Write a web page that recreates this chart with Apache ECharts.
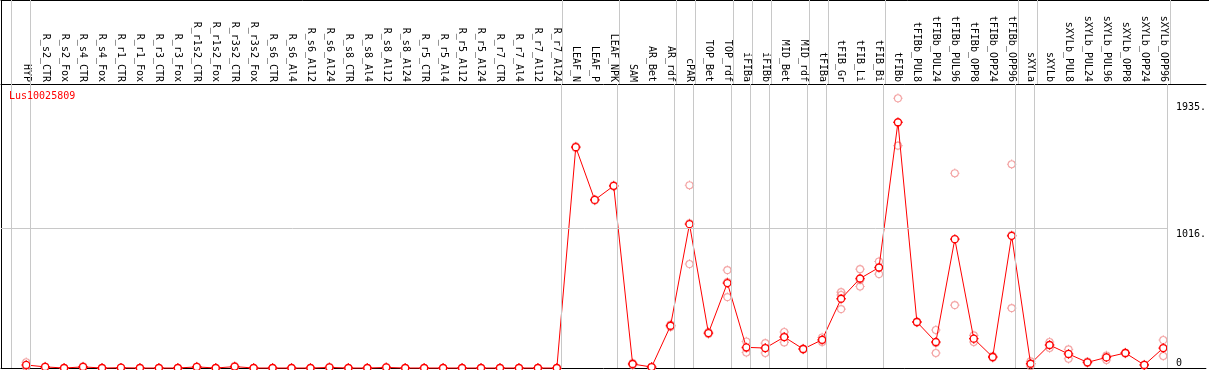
<!DOCTYPE html>
<html>
<head>
<meta charset="utf-8">
<script src="https://cdn.jsdelivr.net/npm/echarts@6/dist/echarts.min.js"></script>
<style>
  html, body { margin: 0; padding: 0; background: #fff; }
  #chart { width: 1209px; height: 370px; }
</style>
</head>
<body>
<div id="chart"></div>
<script>
// sample names along the top
const categories = [
  'HYP', 'R_s2_CTR', 'R_s2_Fox', 'R_s4_CTR', 'R_s4_Fox', 'R_r1_CTR', 'R_r1_Fox',
  'R_r3_CTR', 'R_r3_Fox', 'R_r1s2_CTR', 'R_r1s2_Fox', 'R_r3s2_CTR', 'R_r3s2_Fox',
  'R_s6_CTR', 'R_s6_Al4', 'R_s6_Al12', 'R_s6_Al24', 'R_s8_CTR', 'R_s8_Al4',
  'R_s8_Al12', 'R_s8_Al24', 'R_r5_CTR', 'R_r5_Al4', 'R_r5_Al12', 'R_r5_Al24',
  'R_r7_CTR', 'R_r7_Al4', 'R_r7_Al12', 'R_r7_Al24', 'LEAF_N', 'LEAF_P', 'LEAF_NPK',
  'SAM', 'AR_Bet', 'AR_rdf', 'cPAR', 'TOP_Bet', 'TOP_rdf', 'iFIBa', 'iFIBb',
  'MID_Bet', 'MID_rdf', 'tFIBa', 'tFIB_Gr', 'tFIB_Li', 'tFIB_Bi', 'tFIBb',
  'tFIBb_PUL8', 'tFIBb_PUL24', 'tFIBb_PUL96', 'tFIBb_OPP8', 'tFIBb_OPP24', 'tFIBb_OPP96',
  'sXYLa', 'sXYLb', 'sXYLb_PUL8', 'sXYLb_PUL24', 'sXYLb_PUL96', 'sXYLb_OPP8',
  'sXYLb_OPP24', 'sXYLb_OPP96'
]

// mean expression per sample
const meanValues = [
  22, 8, 0, 8, 0, 2, 0, 0, 0, 8, 0, 10, 0,
  0, 0, 0, 4, 0, 0, 4, 0, 0, 0, 0, 0, 0, 0, 0, 0,
  1604, 1221, 1323, 29, 7, 307, 1045, 254, 617, 150, 145,
  225, 138, 205, 503, 650, 730, 1785, 334, 189, 936, 213, 80, 960,
  31, 167, 102, 41, 77, 109, 22, 145
]

// replicates
const rep1 = [
  42, 11, 0, 12, 0, 3, 0, 0, 0, 11, 0, 14, 0,
  0, 0, 0, 6, 0, 0, 6, 0, 0, 0, 0, 0, 0, 0, 0, 0,
  1610, 1225, 1328, 36, 9, 316, 1328, 262, 711, 193, 181,
  261, 142, 222, 551, 718, 774, 1959, 338, 276, 1415, 237, 86, 1480,
  48, 189, 135, 46, 91, 113, 25, 203
]
const rep2 = [
  18, 8, 0, 8, 0, 2, 0, 0, 0, 8, 0, 10, 0,
  0, 0, 0, 4, 0, 0, 4, 0, 0, 0, 0, 0, 0, 0, 0, 0,
  1604, 1221, 1323, 30, 7, 308, 1052, 253, 625, 144, 145,
  228, 138, 204, 530, 640, 728, 1781, 334, 182, 936, 213, 80, 965,
  31, 167, 104, 41, 82, 109, 22, 145
]
const rep3 = [
  6, 5, 0, 4, 0, 1, 0, 0, 0, 5, 0, 6, 0,
  0, 0, 0, 2, 0, 0, 2, 0, 0, 0, 0, 0, 0, 0, 0, 0,
  1598, 1217, 1318, 21, 5, 297, 755, 247, 515, 113, 109,
  186, 134, 189, 428, 592, 682, 1615, 330, 109, 457, 189, 74, 435,
  14, 145, 67, 36, 58, 105, 19, 87
]

const yTicks = [0, 1016, 1935]
// last sample index of each group, a separator follows it
const groupEnds = [-1, 0, 28, 31, 34, 35, 37, 38, 39, 41, 42, 45, 52, 53, 60]
const geneId = 'Lus10025809'

// layout
const MONO = 'DejaVu Sans Mono'
const X_MIN = -1.33
const X_MAX = 62.25
const Y_MAX = 2063
const SEP_OFFSET = 0.21
const SEP_COLOR = '#c8c8c8'
// small circle with four ticks
const DOT_PATH =
  'path://M0,-4.7V-3.5M0,3.5V4.7M-4.7,0H-3.5M3.5,0H4.7M-3.5,0A3.5,3.5,0,1,1,3.5,0A3.5,3.5,0,1,1,-3.5,0Z'
const DOT_SIZE = 9.4

const chart = echarts.init(document.getElementById('chart'))

const hidden = { show: false }
const blackLine = { show: true, onZero: false, lineStyle: { color: '#000', width: 1 } }
const separators = groupEnds.map(g => ({ xAxis: g + SEP_OFFSET }))
const sepMarkLine = extra => ({
  silent: true,
  symbol: ['none', 'none'],
  label: hidden,
  lineStyle: { color: SEP_COLOR, type: 'solid', width: 1 },
  data: separators.concat(extra || []),
})

const repSeries = [rep1, rep2, rep3].map(rep => ({
  type: 'scatter',
  xAxisIndex: 0,
  yAxisIndex: 0,
  data: rep.map((v, i) => [i, v]),
  symbol: DOT_PATH,
  symbolSize: DOT_SIZE,
  itemStyle: { color: 'rgba(0,0,0,0)', borderColor: '#f08c8c', borderWidth: 1.1 },
  z: 2,
  silent: true,
}))

const option = {
  animation: false,
  backgroundColor: '#fff',
  title: {
    text: geneId,
    left: 9,
    top: 91,
    padding: 0,
    textStyle: { fontFamily: MONO, fontSize: 10, fontWeight: 'normal', color: '#ff0000' },
  },
  grid: [
    { left: 1, right: 0, top: 84, bottom: 2 },
    { left: 1, right: 0, top: 0, height: 84 },
  ],
  xAxis: [
    {
      gridIndex: 0,
      type: 'value',
      position: 'top',
      min: X_MIN,
      max: X_MAX,
      axisLine: blackLine,
      axisTick: hidden,
      splitLine: hidden,
      axisLabel: {
        customValues: categories.map((c, i) => i),
        formatter: v => categories[v] || '',
        rotate: 90,
        margin: 2,
        fontFamily: MONO,
        fontSize: 10,
        color: '#000',
      },
    },
    {
      gridIndex: 0,
      type: 'value',
      position: 'bottom',
      min: X_MIN,
      max: X_MAX,
      axisLine: blackLine,
      axisTick: hidden,
      axisLabel: hidden,
      splitLine: hidden,
    },
    {
      gridIndex: 1,
      type: 'value',
      position: 'top',
      min: X_MIN,
      max: X_MAX,
      axisLine: blackLine,
      axisTick: hidden,
      axisLabel: hidden,
      splitLine: hidden,
    },
  ],
  yAxis: [
    {
      gridIndex: 0,
      type: 'value',
      position: 'right',
      min: 0,
      max: Y_MAX,
      axisLine: { show: false, onZero: false },
      axisTick: hidden,
      splitLine: hidden,
      axisLabel: {
        inside: true,
        customValues: yTicks,
        formatter: v => (v === 0 ? '0' : v + '.'),
        align: 'left',
        margin: 30,
        verticalAlign: 'top',
        verticalAlignMinLabel: 'bottom',
        padding: [1, 0, 0, 0],
        fontFamily: MONO,
        fontSize: 10,
        color: '#000',
      },
    },
    {
      gridIndex: 0,
      type: 'value',
      position: 'left',
      min: 0,
      max: Y_MAX,
      axisLine: blackLine,
      axisTick: hidden,
      axisLabel: hidden,
      splitLine: hidden,
    },
    {
      gridIndex: 1,
      type: 'value',
      position: 'left',
      min: 0,
      max: 1,
      axisLine: blackLine,
      axisTick: hidden,
      axisLabel: hidden,
      splitLine: hidden,
    },
  ],
  series: [
    {
      // separators + grid line in the plot
      type: 'line',
      xAxisIndex: 0,
      yAxisIndex: 0,
      data: [],
      z: 1,
      markLine: sepMarkLine([
        [
          { coord: [X_MIN, yTicks[1]] },
          { coord: [groupEnds[groupEnds.length - 1] + SEP_OFFSET, yTicks[1]] },
        ],
      ]),
    },
    {
      // separators through the header
      type: 'line',
      xAxisIndex: 2,
      yAxisIndex: 2,
      data: [],
      z: 1,
      markLine: sepMarkLine(),
    },
    ...repSeries,
    {
      type: 'line',
      xAxisIndex: 0,
      yAxisIndex: 0,
      data: meanValues.map((v, i) => [i, v]),
      symbol: DOT_PATH,
      symbolSize: DOT_SIZE,
      showAllSymbol: true,
      clip: false,
      lineStyle: { color: '#ff0000', width: 1 },
      itemStyle: { color: '#fff', borderColor: '#ff0000', borderWidth: 1.3 },
      z: 3,
      silent: true,
    },
  ],
}

chart.setOption(option)
</script>
</body>
</html>
